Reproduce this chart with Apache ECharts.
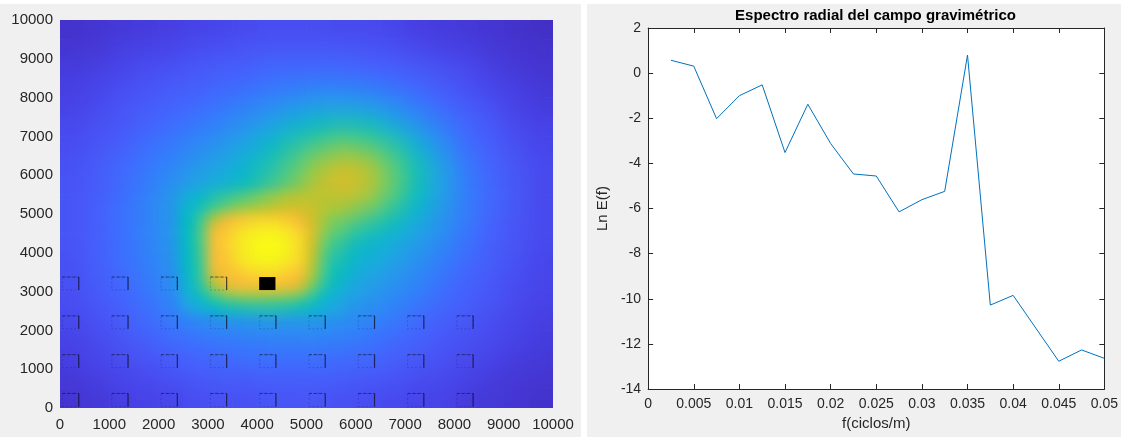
<!DOCTYPE html>
<html>
<head>
<meta charset="utf-8">
<title>Campo gravimétrico y espectro radial</title>
<script src="https://cdn.jsdelivr.net/npm/echarts@6/dist/echarts.min.js"></script>
<style>
  html, body { margin: 0; padding: 0; background: #ffffff; }
  body { position: relative; width: 1121px; height: 437px; overflow: hidden; }
  .panel { position: absolute; background: #f0f0f0; }
  .abs { position: absolute; }
  #heatClip { position: absolute; left: 60px; top: 20px; width: 493px; height: 388px; overflow: hidden; }
  #heatSoft { position: absolute; left: 0; top: 0; width: 493px; height: 388px; filter: blur(10px); }
  #heatPatch { position: absolute; filter: blur(6px); }
</style>
</head>
<body>
<div class="panel" style="left:0;top:4px;width:581px;height:433px"></div>
<div class="panel" style="left:587px;top:4px;width:534px;height:433px"></div>
<div id="heatBase" class="abs" style="left:60px;top:20px;width:493px;height:388px"></div>
<div id="heatClip"><div id="heatSoft"></div></div>
<div id="heatPatch"></div>
<div id="leftAxes" class="abs" style="left:0;top:0;width:581px;height:437px"></div>
<div id="spectrum" class="abs" style="left:587px;top:0;width:534px;height:437px"></div>

<script>
// ---- Gravity field map (m) ----
// Cell centres of the 500 m sampling grid, both directions.
const cellCenters = [250, 750, 1250, 1750, 2250, 2750, 3250, 3750, 4250, 4750,
                     5250, 5750, 6250, 6750, 7250, 7750, 8250, 8750, 9250, 9750];

// Normalised anomaly (0 = minimum, 1 = maximum), one row per y cell,
// listed from the northern edge (y = 9750) down to y = 250.
const fieldRows = [
  [0.05,0.06,0.07,0.08,0.09,0.10,0.11,0.12,0.13,0.13,0.13,0.12,0.12,0.11,0.09,0.08,0.07,0.06,0.05,0.04],
  [0.06,0.07,0.09,0.10,0.11,0.13,0.14,0.15,0.16,0.16,0.16,0.16,0.15,0.14,0.12,0.10,0.09,0.07,0.06,0.05],
  [0.08,0.09,0.11,0.13,0.14,0.16,0.17,0.18,0.20,0.20,0.21,0.20,0.19,0.18,0.16,0.14,0.12,0.09,0.07,0.06],
  [0.09,0.11,0.13,0.15,0.17,0.18,0.20,0.22,0.24,0.26,0.27,0.27,0.26,0.23,0.20,0.17,0.14,0.11,0.09,0.07],
  [0.10,0.12,0.15,0.17,0.19,0.21,0.24,0.27,0.30,0.34,0.37,0.37,0.36,0.31,0.26,0.21,0.17,0.14,0.10,0.08],
  [0.12,0.14,0.16,0.19,0.22,0.25,0.28,0.32,0.38,0.44,0.49,0.52,0.50,0.42,0.33,0.26,0.20,0.16,0.12,0.10],
  [0.13,0.15,0.18,0.22,0.25,0.29,0.33,0.39,0.46,0.54,0.61,0.65,0.62,0.55,0.43,0.31,0.22,0.18,0.14,0.11],
  [0.14,0.17,0.20,0.24,0.28,0.33,0.38,0.44,0.52,0.61,0.70,0.75,0.72,0.62,0.50,0.36,0.25,0.19,0.15,0.12],
  [0.15,0.17,0.21,0.26,0.31,0.38,0.43,0.48,0.56,0.65,0.74,0.78,0.74,0.64,0.50,0.37,0.26,0.20,0.16,0.12],
  [0.15,0.18,0.22,0.27,0.34,0.45,0.55,0.63,0.71,0.75,0.74,0.72,0.68,0.58,0.46,0.35,0.26,0.20,0.16,0.12],
  [0.15,0.18,0.23,0.27,0.33,0.47,0.80,0.88,0.92,0.86,0.70,0.63,0.56,0.49,0.40,0.32,0.25,0.19,0.15,0.12],
  [0.15,0.18,0.22,0.27,0.33,0.47,0.83,0.94,1.00,0.93,0.72,0.52,0.46,0.41,0.35,0.29,0.23,0.18,0.15,0.12],
  [0.14,0.18,0.22,0.26,0.32,0.46,0.83,0.95,0.98,0.91,0.68,0.48,0.42,0.37,0.31,0.26,0.21,0.17,0.14,0.11],
  [0.14,0.17,0.20,0.25,0.30,0.42,0.74,0.83,0.86,0.82,0.60,0.43,0.37,0.32,0.28,0.23,0.19,0.16,0.13,0.11],
  [0.13,0.16,0.19,0.23,0.28,0.37,0.46,0.51,0.55,0.51,0.43,0.37,0.33,0.29,0.25,0.21,0.18,0.15,0.12,0.10],
  [0.12,0.14,0.17,0.21,0.25,0.29,0.32,0.33,0.34,0.34,0.34,0.31,0.28,0.25,0.21,0.18,0.16,0.13,0.11,0.09],
  [0.10,0.12,0.15,0.18,0.21,0.23,0.25,0.26,0.27,0.27,0.27,0.26,0.24,0.21,0.19,0.16,0.14,0.12,0.10,0.08],
  [0.09,0.11,0.13,0.15,0.17,0.19,0.20,0.22,0.22,0.22,0.22,0.21,0.20,0.18,0.16,0.14,0.12,0.10,0.08,0.07],
  [0.07,0.09,0.11,0.12,0.14,0.16,0.17,0.17,0.18,0.18,0.18,0.17,0.16,0.15,0.13,0.12,0.10,0.08,0.07,0.06],
  [0.06,0.07,0.09,0.10,0.11,0.13,0.14,0.14,0.15,0.15,0.15,0.14,0.13,0.12,0.11,0.10,0.08,0.07,0.06,0.05]
];

// Detail around the main body: 250 m cells, x 2500-5750, y 2500-5500.
const patchX = [2625, 2875, 3125, 3375, 3625, 3875, 4125, 4375, 4625, 4875, 5125, 5375, 5625];
const patchY = [2625, 2875, 3125, 3375, 3625, 3875, 4125, 4375, 4625, 4875, 5125, 5375];
// rows listed from y = 5375 down to y = 2625
const patchRows = [
  [0.42,0.47,0.52,0.56,0.60,0.63,0.66,0.69,0.72,0.73,0.74,0.73,0.73],
  [0.45,0.52,0.60,0.66,0.70,0.72,0.74,0.76,0.77,0.77,0.75,0.73,0.71],
  [0.47,0.58,0.72,0.81,0.85,0.88,0.90,0.89,0.87,0.81,0.76,0.70,0.65],
  [0.48,0.60,0.81,0.85,0.91,0.94,0.96,0.96,0.93,0.88,0.78,0.69,0.63],
  [0.48,0.61,0.83,0.88,0.94,0.97,0.99,0.99,0.96,0.91,0.77,0.66,0.58],
  [0.47,0.60,0.83,0.88,0.94,0.98,1.00,1.00,0.97,0.92,0.76,0.63,0.54],
  [0.47,0.59,0.83,0.87,0.93,0.97,0.99,0.98,0.96,0.91,0.75,0.61,0.51],
  [0.47,0.58,0.82,0.84,0.90,0.94,0.95,0.95,0.92,0.88,0.73,0.59,0.49],
  [0.46,0.57,0.78,0.83,0.84,0.87,0.89,0.89,0.86,0.83,0.71,0.57,0.47],
  [0.45,0.55,0.70,0.80,0.83,0.83,0.83,0.83,0.82,0.78,0.65,0.53,0.45],
  [0.42,0.49,0.58,0.65,0.68,0.69,0.69,0.68,0.67,0.64,0.56,0.47,0.41],
  [0.38,0.43,0.47,0.50,0.51,0.52,0.52,0.52,0.51,0.49,0.46,0.42,0.38]
];

// Survey prisms: lower-left corners (m) of the outlined blocks.
const gridBlockX = [50, 1050, 2050, 3050, 4050, 5050, 6050, 7050, 8050];
const gridBlockY = [40, 1040, 2040];
const upperBlockX = [50, 1050, 2050, 3050];
const upperBlockY = 3040;
// Solid block
const solidBlock = [4040, 3040];
const BLOCK_W = 330;
const BLOCK_H = 335;

const mapTicks = [0, 1000, 2000, 3000, 4000, 5000, 6000, 7000, 8000, 9000, 10000];

// ---- Radial spectrum ----
const freq = [0.0025, 0.005, 0.0075, 0.01, 0.0125, 0.015, 0.0175, 0.02, 0.0225, 0.025,
              0.0275, 0.03, 0.0325, 0.035, 0.0375, 0.04, 0.045, 0.0475, 0.05];
const lnE  = [0.57, 0.31, -2.02, -1.00, -0.52, -3.52, -1.38, -3.12, -4.47, -4.56,
              -6.15, -5.61, -5.24, 0.80, -10.28, -9.85, -12.77, -12.27, -12.64];

const SPECTRUM_TITLE = 'Espectro radial del campo gravimétrico';
const X_NAME = 'f(ciclos/m)';
const Y_NAME = 'Ln E(f)';

// MATLAB parula, sampled evenly
const PARULA = ['#3e26a8', '#4432cb', '#4741e5', '#4852f4', '#4563fd', '#3875fe', '#2e87f7',
                '#2796eb', '#20a5e3', '#12b1d6', '#02bac3', '#24c1ae', '#37c897', '#57cc7a',
                '#81cc59', '#abc739', '#d1bf27', '#f0ba36', '#fec338', '#fad62d', '#f5e924', '#f9fb15'];

const FONT = '"Liberation Sans", Arial, Helvetica, sans-serif';
const AXIS_GRAY = '#262626';

// ---- Heatmap layers ----
function toCells(rows) {
  const out = [];
  rows.forEach(function (row, r) {
    const yi = rows.length - 1 - r;
    row.forEach(function (v, xi) { out.push([xi, yi, v]); });
  });
  return out;
}

function heatOption(xs, ys, rows) {
  return {
    animation: false,
    grid: { left: 0, right: 0, top: 0, bottom: 0 },
    xAxis: { type: 'category', data: xs.map(String), show: false },
    yAxis: { type: 'category', data: ys.map(String), show: false },
    visualMap: { show: false, min: 0, max: 1, dimension: 2, inRange: { color: PARULA } },
    series: [{
      type: 'heatmap',
      data: toCells(rows),
      itemStyle: { borderWidth: 0 },
      emphasis: { disabled: true },
      progressive: 0,
      silent: true
    }]
  };
}

echarts.init(document.getElementById('heatBase')).setOption(heatOption(cellCenters, cellCenters, fieldRows));
echarts.init(document.getElementById('heatSoft')).setOption(heatOption(cellCenters, cellCenters, fieldRows));

// ---- Map axes and prism outlines ----
const blockData = [];
gridBlockY.forEach(function (y) {
  gridBlockX.forEach(function (x) { blockData.push([x, y, 0]); });
});
upperBlockX.forEach(function (x) { blockData.push([x, upperBlockY, 0]); });
blockData.push([solidBlock[0], solidBlock[1], 1]);

function renderBlock(params, api) {
  const x0 = api.value(0), y0 = api.value(1), solid = api.value(2);
  const tl = api.coord([x0, y0 + BLOCK_H]);
  const br = api.coord([x0 + BLOCK_W, y0]);
  const shape = { x: tl[0], y: tl[1], width: br[0] - tl[0], height: br[1] - tl[1] };
  if (solid) {
    return { type: 'rect', shape: shape, style: { fill: '#000000' } };
  }
  return {
    type: 'group',
    children: [
      { type: 'rect', shape: shape,
        style: { fill: 'none', stroke: 'rgba(20,20,60,0.22)', lineWidth: 1, lineDash: [2, 2] } },
      { type: 'line', shape: { x1: tl[0], y1: tl[1], x2: br[0], y2: tl[1] },
        style: { stroke: 'rgba(15,15,40,0.55)', lineWidth: 1, lineDash: [3, 2] } },
      { type: 'line', shape: { x1: br[0], y1: tl[1], x2: br[0], y2: br[1] },
        style: { stroke: 'rgba(15,15,40,0.7)', lineWidth: 1.2 } }
    ]
  };
}

function mapAxis(margin) {
  return {
    type: 'value',
    min: mapTicks[0],
    max: mapTicks[mapTicks.length - 1],
    interval: mapTicks[1] - mapTicks[0],
    axisLine: { show: false },
    axisTick: { show: false },
    splitLine: { show: false },
    axisLabel: { color: AXIS_GRAY, fontSize: 15, fontFamily: FONT, margin: margin,
                 formatter: function (v) { return String(v); } }
  };
}

const leftChart = echarts.init(document.getElementById('leftAxes'));
leftChart.setOption({
  animation: false,
  backgroundColor: 'transparent',
  grid: { left: 60, top: 20, width: 493, height: 388 },
  xAxis: mapAxis(9),
  yAxis: mapAxis(7),
  series: [{
    type: 'custom',
    renderItem: renderBlock,
    data: blockData,
    encode: { x: 0, y: 1 },
    silent: true,
    clip: false
  }]
});

// Place the detail layer through the map's own scale
(function () {
  const half = (patchX[1] - patchX[0]) / 2;
  const tl = leftChart.convertToPixel({ gridIndex: 0 }, [patchX[0] - half, patchY[patchY.length - 1] + half]);
  const br = leftChart.convertToPixel({ gridIndex: 0 }, [patchX[patchX.length - 1] + half, patchY[0] - half]);
  const el = document.getElementById('heatPatch');
  el.style.left = tl[0] + 'px';
  el.style.top = tl[1] + 'px';
  el.style.width = (br[0] - tl[0]) + 'px';
  el.style.height = (br[1] - tl[1]) + 'px';
  echarts.init(el).setOption(heatOption(patchX, patchY, patchRows));
})();

// ---- Spectrum chart ----
const spectrumPoints = freq.map(function (f, i) { return [f, lnE[i]]; });

function freqLabel(v) { return String(Math.round(v * 10000) / 10000); }

function boxAxis(kind, position, withLabels) {
  const isX = kind === 'x';
  const ax = {
    type: 'value',
    position: position,
    min: isX ? 0 : -14,
    max: isX ? 0.05 : 2,
    interval: isX ? 0.005 : 2,
    axisLine: { show: true, onZero: false, lineStyle: { color: AXIS_GRAY, width: 1 } },
    axisTick: { show: true, inside: true, length: 5, lineStyle: { color: AXIS_GRAY, width: 1 } },
    splitLine: { show: false },
    axisLabel: withLabels
      ? { show: true, color: AXIS_GRAY, fontSize: 14, fontFamily: FONT, margin: isX ? 8 : 7,
          formatter: isX ? freqLabel : function (v) { return String(v); } }
      : { show: false }
  };
  if (withLabels) {
    ax.name = isX ? X_NAME : Y_NAME;
    ax.nameLocation = 'middle';
    ax.nameGap = isX ? 27 : 31;
    ax.nameTextStyle = { color: AXIS_GRAY, fontSize: 15, fontFamily: FONT };
  }
  return ax;
}

echarts.init(document.getElementById('spectrum')).setOption({
  animation: false,
  backgroundColor: 'transparent',
  grid: { left: 59, top: 28, width: 459, height: 361, show: true, backgroundColor: '#ffffff', borderWidth: 0 },
  graphic: [{
    type: 'text',
    x: 288.5,
    y: 16,
    style: {
      text: SPECTRUM_TITLE,
      font: 'bold 15px ' + FONT,
      fill: '#000000',
      align: 'center',
      verticalAlign: 'middle'
    }
  }],
  xAxis: [boxAxis('x', 'bottom', true), boxAxis('x', 'top', false)],
  yAxis: [boxAxis('y', 'left', true), boxAxis('y', 'right', false)],
  series: [{
    type: 'line',
    data: spectrumPoints,
    xAxisIndex: 0,
    yAxisIndex: 0,
    symbol: 'none',
    showSymbol: false,
    lineStyle: { color: '#0072bd', width: 1 },
    itemStyle: { color: '#0072bd' },
    silent: true
  }]
});
</script>
</body>
</html>
